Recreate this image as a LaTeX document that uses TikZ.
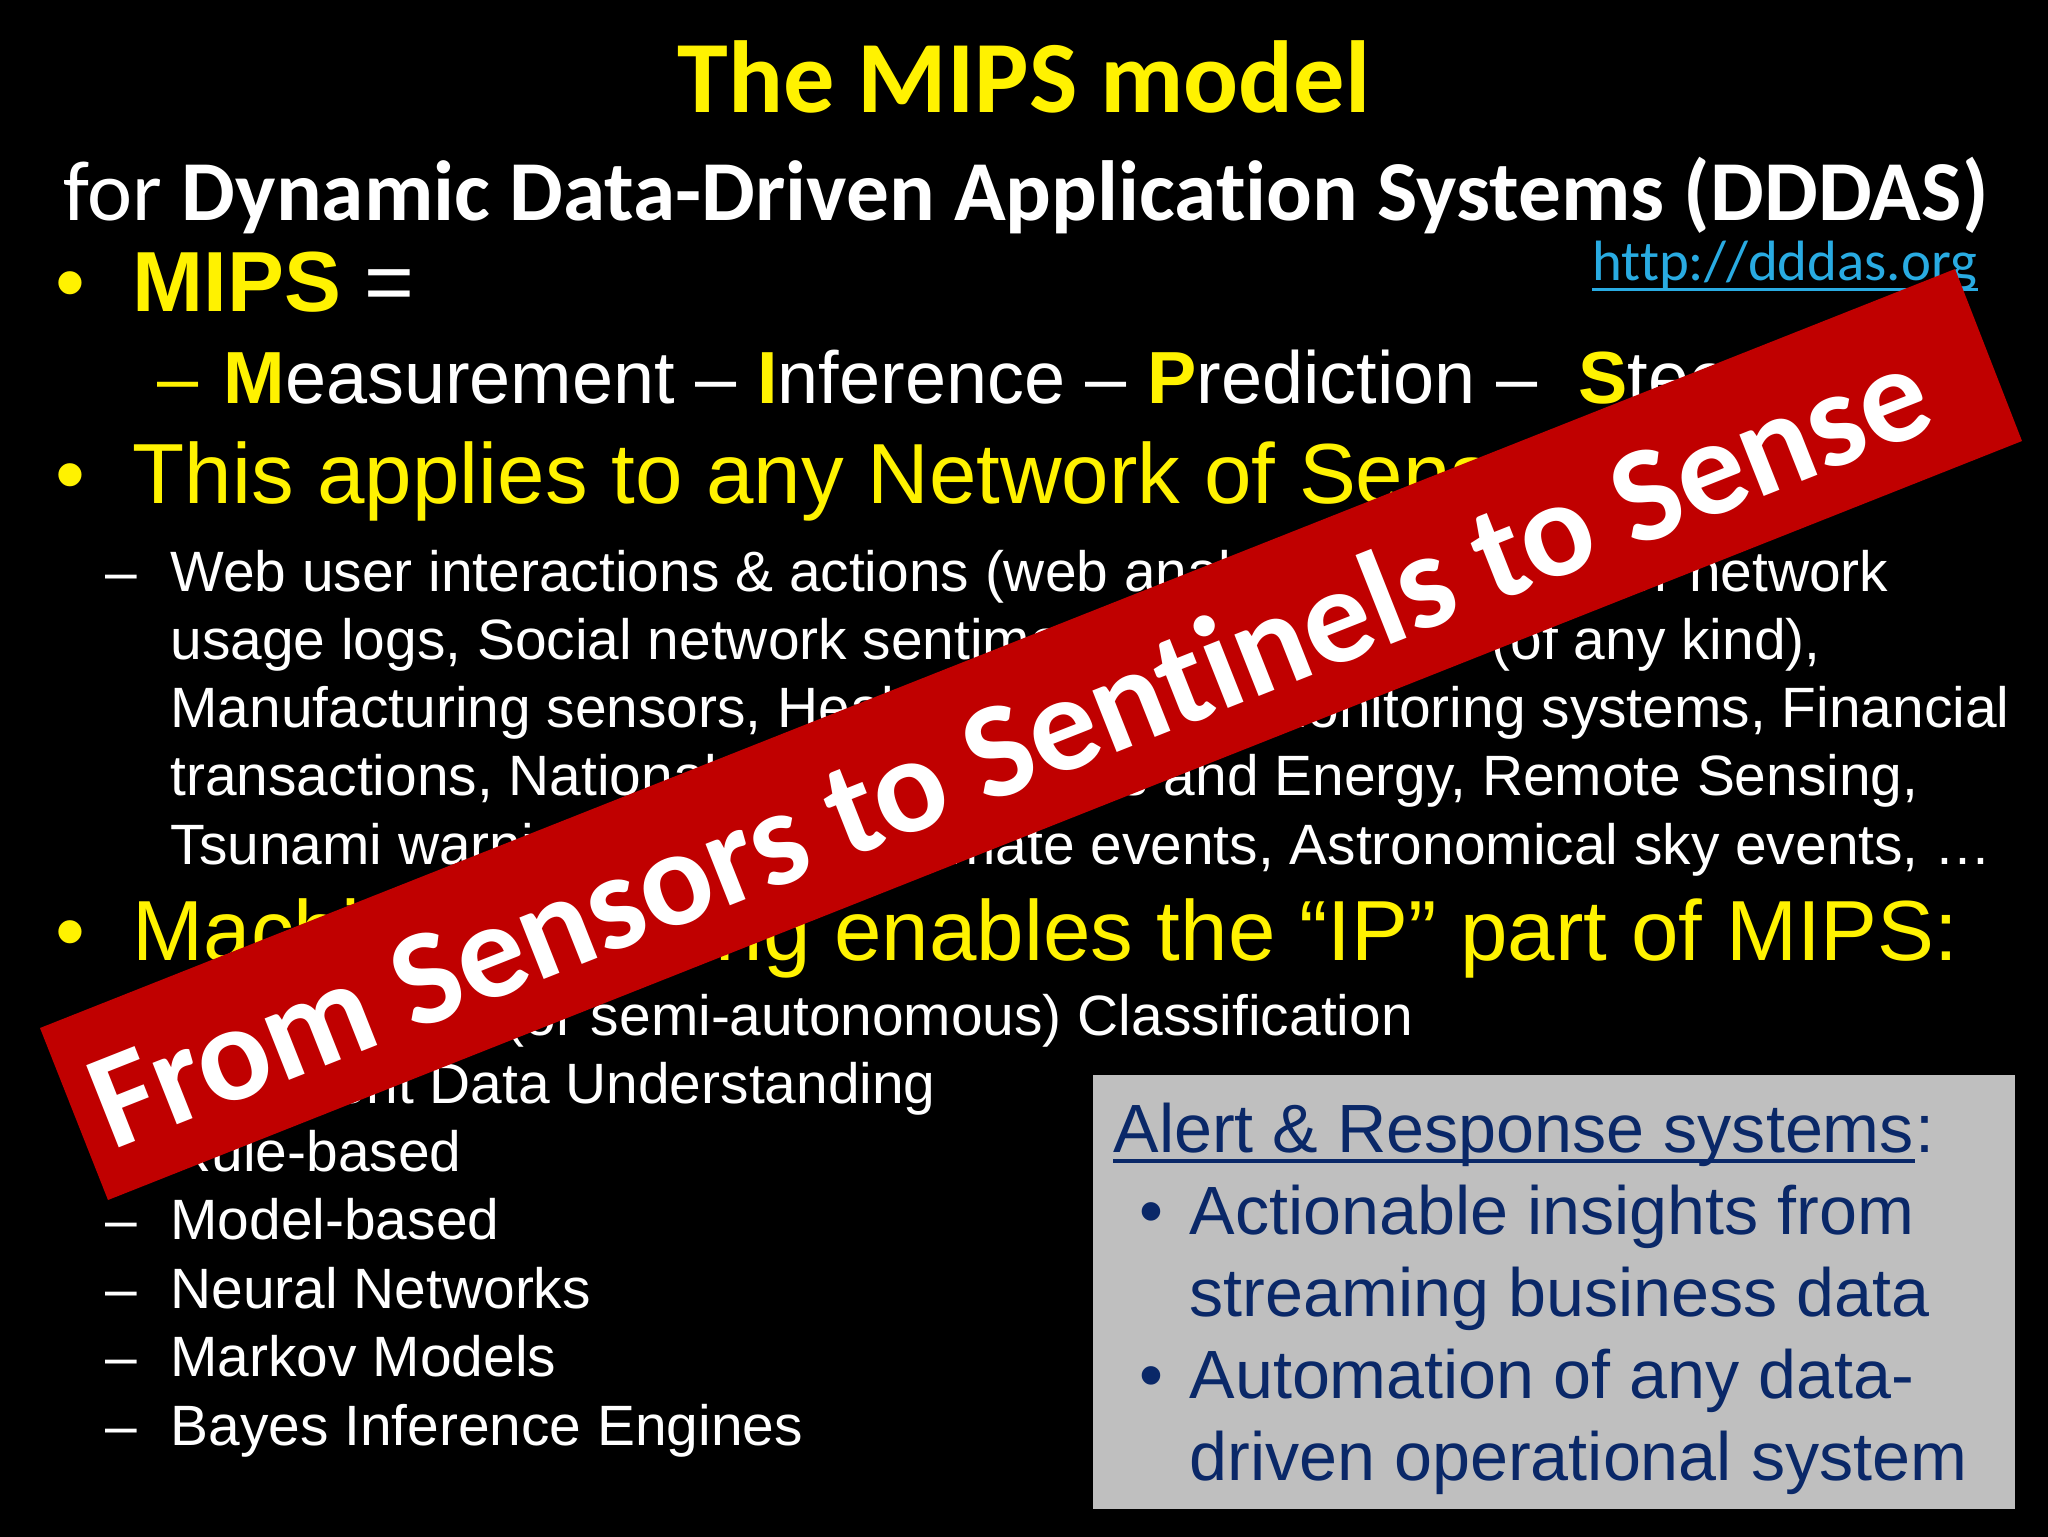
\documentclass[tikz,border=0pt]{standalone}
\usepackage{fontspec}
\setmainfont{Liberation Sans}
\newfontfamily\calibrifont[Ligatures=NoCommon]{Carlito}
\usetikzlibrary{positioning}

\definecolor{bannerred}{HTML}{C00000}
\definecolor{boxgray}{HTML}{BFBFBF}
\definecolor{boxnavy}{HTML}{0A2868}
\definecolor{linkblue}{HTML}{29ABE2}

\newcommand{\sz}[1]{\fontsize{#1}{#1}\selectfont}
\newcommand{\ylw}[1]{\textcolor{yellow}{\textbf{#1}}}

\tikzset{
	txt/.style = {inner sep = 0, anchor = base west, text = white},
	headtxt/.style = {txt, text = yellow, font = \sz{32}},
	subtxt/.style = {txt, font = \sz{21.33}},
	boxtxt/.style = {txt, text = boxnavy, font = \sz{25.6}}
}

\begin{document}
\begin{tikzpicture}[x = 0.375pt, y = -0.375pt]
	\useasboundingbox (0,0) rectangle (2048,1536);
	\fill [black] (-5,-5) rectangle (2053,1541);
	% title
	\node [txt, anchor = base, text = yellow, font = \calibrifont\bfseries\sz{38.4}] (title) at (1024,112) {The MIPS model};
	\node [txt, font = \calibrifont\sz{32}] (subtitle) at (63,220) {for \textbf{Dynamic Data-Driven Application Systems (DDDAS)}};
	\node [txt, text = linkblue, font = \calibrifont\sz{21.3}] (link) at (1592,280) {http://dddas.org};
	\draw [linkblue, line width = 1pt] ([yshift = -3.5pt]link.base west) -- ([yshift = -3.5pt]link.base east);
	% main list
	\node [headtxt] (bullA) at (55,311) {•};
	\node [txt, font = \sz{32}] (mips) at (132,311) {\ylw{MIPS} =};
	\node [txt, text = yellow, font = \sz{27.7}] (dashA) at (157,403) {–};
	\node [txt, font = \sz{27.7}] (steps) at (223,403) {\ylw{M}easurement – \ylw{I}nference – \ylw{P}rediction –\ \ \ylw{S}teering};
	\node [headtxt] (bullB) at (55,503) {•};
	\node [headtxt] (applies) at (132,503) {This applies to any Network of Sensors};
	% sensor examples, split where the banner covers them
	\node [subtxt] (dashB) at (105,591) {–};
	\node [subtxt] (webL) at (170,591) {Web user interactions \& actions (web analytics};
	\node [subtxt, anchor = base east] (webR) at (1889,591) {Computer network};
	\node [subtxt] (usageL) at (170,659) {usage logs, Social network sentiment};
	\node [subtxt, anchor = base east] (usageR) at (1821,659) {(of any kind),};
	\node [subtxt] (manufL) at (170,727) {Manufacturing sensors, Healthcare};
	\node [subtxt, anchor = base east] (manufR) at (2010,727) {monitoring systems, Financial};
	\node [subtxt] (transL) at (170,795) {transactions, National Security};
	\node [subtxt, anchor = base east] (transR) at (1919,795) {Utilities and Energy, Remote Sensing,};
	\node [subtxt] (tsunL) at (170,864) {Tsunami warnings};
	\node [subtxt, anchor = base east] (tsunR) at (1992,864) {climate events, Astronomical sky events, …};
	\node [headtxt] (bullC) at (55,960) {•};
	\node [headtxt] (machine) at (132,960) {Machine Learning enables the “IP” part of MIPS:};
	% methods
	\foreach \name/\ypos/\item in {auto/1035/{Autonomous (or semi-autonomous) Classification},
			intel/1103/{Intelligent Data Understanding}, rule/1171/{Rule-based}, model/1239/{Model-based},
			neural/1308/{Neural Networks}, markov/1376/{Markov Models}, bayes/1445/{Bayes Inference Engines}} {
		\node [subtxt] (\name dash) at (105,\ypos) {–};
		\node [subtxt] (\name) at (170,\ypos) {\item};
	}
	% alert box
	\fill [boxgray] (1093,1075) rectangle (2015,1509);
	\node [boxtxt] (alert) at (1113,1152) {Alert \& Response systems};
	\node [boxtxt] (colon) at (alert.base east) {:};
	\draw [boxnavy, line width = 1.5pt] ([yshift = -3.2pt]alert.base west) -- ([yshift = -3.2pt]alert.base east);
	\node [boxtxt] (bullD) at (1139,1234) {•};
	\node [boxtxt] (actionA) at (1189,1234) {Actionable insights from};
	\node [boxtxt] (actionB) at (1189,1316) {streaming business data};
	\node [boxtxt] (bullE) at (1139,1398) {•};
	\node [boxtxt] (autoA) at (1189,1398) {Automation of any data-};
	\node [boxtxt] (autoB) at (1189,1480) {driven operational system};
	% banner
	\fill [bannerred] (1955,269) -- (2022,441) -- (108,1200) -- (40,1028) -- cycle;
	\node [inner sep = 0, text = white, rotate = 21.6, font = \calibrifont\bfseries\sz{51.1}] (banner) at (1008,745) {From Sensors to Sentinels to Sense};
\end{tikzpicture}
\end{document}
